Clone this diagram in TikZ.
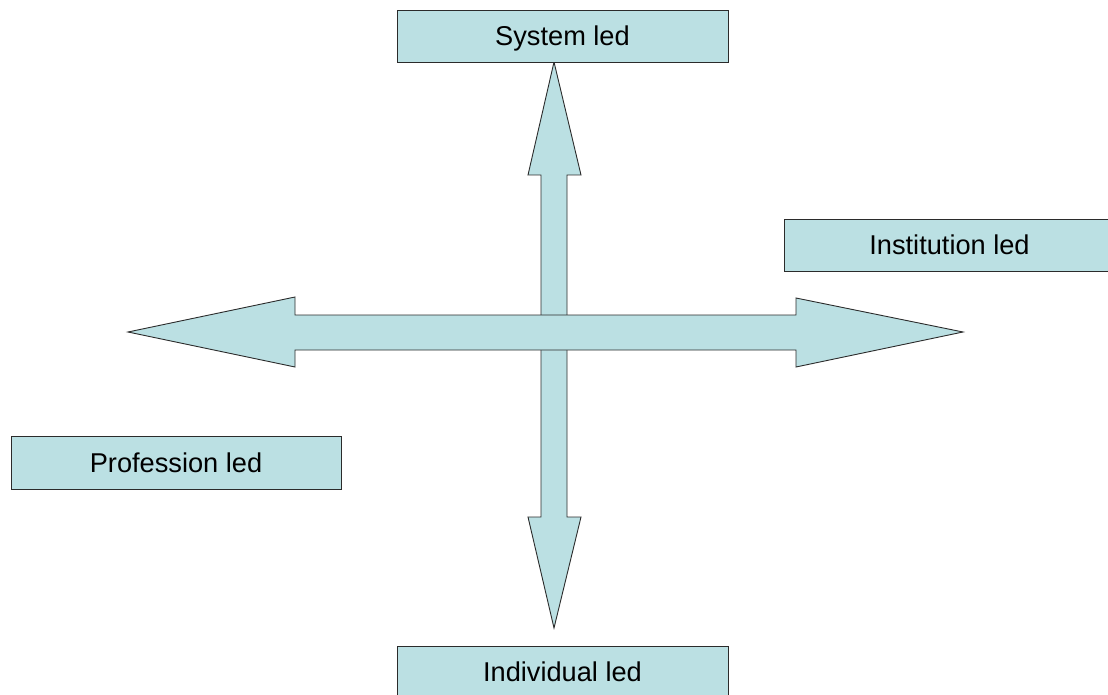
\documentclass[tikz,border=0pt]{standalone}
\usepackage{fontspec}
\setmainfont{Liberation Sans}
\definecolor{paleblue}{HTML}{BBE0E3}
\definecolor{edge}{HTML}{2B2B2B}
\tikzset{
  shape outline/.style={draw=edge, line width=0.9pt, fill=paleblue, line join=miter},
  labelbox/.style={shape outline, rectangle, minimum width=331pt, minimum height=52pt,
    inner sep=0pt, text height=19.5pt, text depth=0pt,
    font=\fontsize{27.2}{30}\selectfont},
}
\begin{document}
\begin{tikzpicture}[x=1pt, y=-1pt]
  \useasboundingbox (0,0) rectangle (1108,695);

  % vertical double arrow (drawn first, the horizontal one lies over it)
  \coordinate (vtop) at (554,62);
  \coordinate (vbot) at (554,628);
  \draw[shape outline]
    (vtop) -- (581,175) -- (567,175) -- (567,517) -- (581,517) -- (vbot)
    -- (528,517) -- (541,517) -- (541,175) -- (528,175) -- cycle;

  % horizontal double arrow
  \coordinate (hleft) at (128,332);
  \coordinate (hright) at (963,332);
  \draw[shape outline]
    (hleft) -- (295,297) -- (295,315) -- (796,315) -- (796,298) -- (hright)
    -- (796,367) -- (796,350) -- (295,350) -- (295,367) -- cycle;

  % labels
  \node[labelbox] (system) at (562.5,36) {System led};
  \node[labelbox] (institution) at (949.5,245) {Institution led};
  \node[labelbox, minimum width=330pt, minimum height=53pt] (profession) at (176,462.5) {Profession led};
  \node[labelbox] (individual) at (562.5,672) {Individual led};
\end{tikzpicture}
\end{document}
